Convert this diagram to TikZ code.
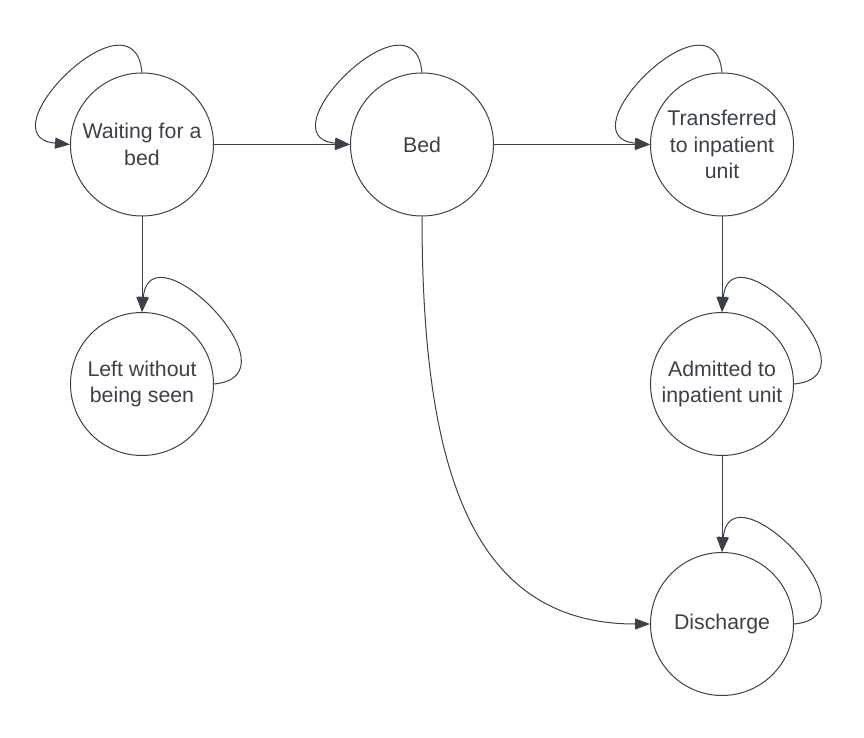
\documentclass[tikz,border=0pt]{standalone}
\usepackage{fontspec}
\setmainfont{Liberation Sans}
\usetikzlibrary{arrows.meta}
\definecolor{ink}{HTML}{3A414A}
\tikzset{
	state/.style={circle, draw=ink, line width=1pt, minimum size=143pt, inner sep=0pt, align=center, text=ink, font=\fontsize{21.3}{26.5}\selectfont},
	arr/.style={draw=ink, line width=1pt, -{Triangle[length=15pt, width=11pt]}}
}
\begin{document}
\begin{tikzpicture}[x=1pt, y=1pt]
			\useasboundingbox (0,0) rectangle (864,737);
			% States
			\node[state] (wait) at (142,592.5) {Waiting for a\\bed};
			\node[state] (bed) at (422,592.5) {Bed};
			\node[state] (trans) at (722,592.5) {Transferred\\to inpatient\\unit};
			\node[state] (left) at (142,353) {Left without\\being seen};
			\node[state] (adm) at (722,353) {Admitted to\\inpatient unit};
			\node[state] (dis) at (722,113) {Discharge};

			% Transitions
			\draw[arr] (wait) -- (bed);
			\draw[arr] (bed) -- (trans);
			\draw[arr] (wait) -- (left);
			\draw[arr] (trans) -- (adm);
			\draw[arr] (adm) -- (dis);
			\draw[arr] (bed.south) .. controls +(0,-250) and +(-180,0) .. (dis.west);

			% Self loops
			\draw[arr] (wait.north) .. controls +(-8,88) and +(-88,8) .. (wait.west);
			\draw[arr] (bed.north) .. controls +(-8,88) and +(-88,8) .. (bed.west);
			\draw[arr] (trans.north) .. controls +(-8,88) and +(-88,8) .. (trans.west);
			\draw[arr] (left.east) .. controls +(88,8) and +(8,88) .. (left.north);
			\draw[arr] (adm.east) .. controls +(88,8) and +(8,88) .. (adm.north);
			\draw[arr] (dis.east) .. controls +(88,8) and +(8,88) .. (dis.north);
		\end{tikzpicture}
\end{document}
